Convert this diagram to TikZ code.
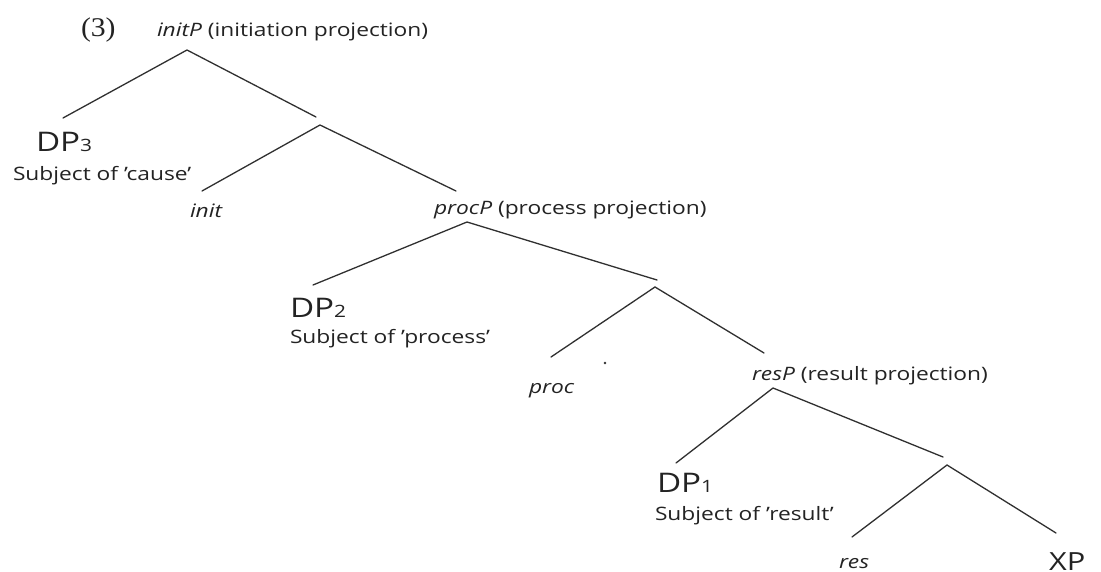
\documentclass[tikz,border=0pt]{standalone}
\usepackage{fontspec}
\setmainfont{Open Sans}
\newfontfamily\numfont{Liberation Serif}
\usepackage{graphicx}
\definecolor{ink}{HTML}{232323}
\definecolor{edgecol}{HTML}{303030}
\newcommand{\wide}[1]{\scalebox{1.23}[1]{#1}}
\newcommand{\dpsub}[1]{DP{\fontsize{17}{17}\selectfont #1}}
\tikzset{
  lbl/.style={anchor=base west, inner sep=0pt, outer sep=0pt, text=ink, font=\fontsize{18.5}{22}\selectfont},
  bigl/.style={lbl, font=\fontsize{27}{30}\selectfont},
  xpl/.style={lbl, font=\fontsize{25}{28}\selectfont},
  numl/.style={lbl, font=\numfont\fontsize{27}{30}\selectfont},
  branch/.style={draw=edgecol, line width=1.3pt, line cap=round, line join=miter},
}
\begin{document}
\begin{tikzpicture}[x=1pt,y=-1pt]
\useasboundingbox (0,0) rectangle (1101,572);
\fill[white] (0,0) rectangle (1101,572);

% branch points
\coordinate (A1) at (187,50);  \coordinate (L1) at (63,118);  \coordinate (R1) at (316,117);
\coordinate (A2) at (320,125); \coordinate (L2) at (202,191); \coordinate (R2) at (456,191);
\coordinate (A3) at (467,222); \coordinate (L3) at (313,285); \coordinate (R3) at (657,280);
\coordinate (A4) at (655,287); \coordinate (L4) at (551,357); \coordinate (R4) at (764,353);
\coordinate (A5) at (773,388); \coordinate (L5) at (676,463); \coordinate (R5) at (943,457);
\coordinate (A6) at (947,465); \coordinate (L6) at (852,537); \coordinate (R6) at (1056,533);

% labels
\node[numl] (ex) at (81,37) {\scalebox{1.1}[1]{(3)}};
\node[lbl] (initP) at (157,37) {\wide{\textit{initP} (initiation projection)}};
\node[bigl] (dp3) at (36,152) {\wide{\dpsub{3}}};
\node[lbl] (cause) at (13,181) {\wide{Subject of 'cause'}};
\node[lbl] (init) at (190,218) {\wide{\textit{init}}};
\node[lbl] (procP) at (434,215) {\wide{\textit{procP} (process projection)}};
\node[bigl] (dp2) at (290,317) {\wide{\dpsub{2}}};
\node[lbl] (process) at (290,343) {\wide{Subject of 'process'}};
\node[lbl] (proc) at (529,393) {\wide{\textit{proc}}};
\node[lbl] (resP) at (752,380) {\wide{\textit{resP} (result projection)}};
\node[bigl] (dp1) at (657,492) {\wide{\dpsub{1}}};
\node[lbl] (result) at (655,520) {\wide{Subject of 'result'}};
\node[lbl] (res) at (839,568) {\wide{\textit{res}}};
\node[xpl] (xp) at (1049,570) {\wide{XP}};

% stray dot
\fill[edgecol] (605,363) circle (1.3);

% branches
\draw[branch] (L1) -- (A1) -- (R1);
\draw[branch] (L2) -- (A2) -- (R2);
\draw[branch] (L3) -- (A3) -- (R3);
\draw[branch] (L4) -- (A4) -- (R4);
\draw[branch] (L5) -- (A5) -- (R5);
\draw[branch] (L6) -- (A6) -- (R6);
\end{tikzpicture}
\end{document}
